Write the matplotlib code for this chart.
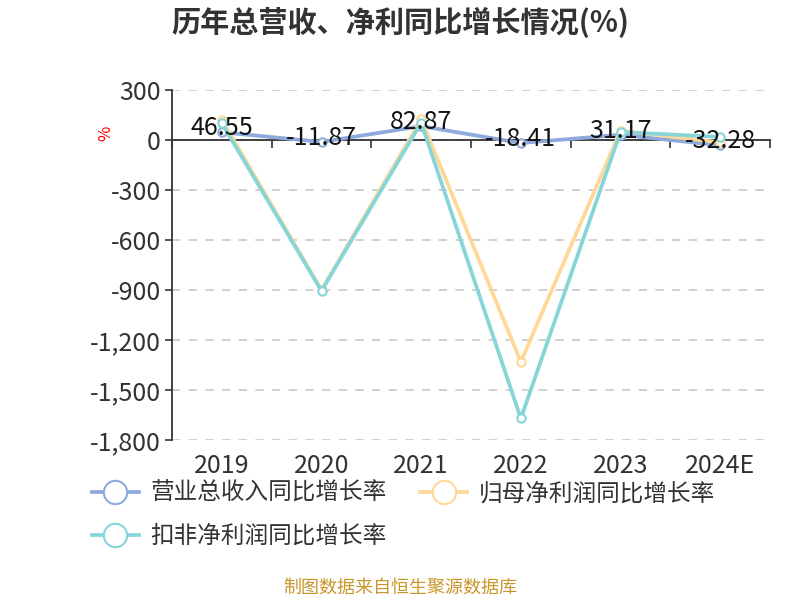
import matplotlib
matplotlib.use('Agg')
import matplotlib.pyplot as plt
from matplotlib.ticker import FuncFormatter
import matplotlib.transforms as mtransforms

plt.rcParams['font.family'] = ['Noto Sans CJK SC', 'DejaVu Sans']
plt.rcParams['axes.unicode_minus'] = False

years = ['2019', '2020', '2021', '2022', '2023', '2024E']
revenue_growth = [46.55, -11.87, 82.87, -18.41, 31.17, -32.28]
net_profit_growth = [120, -900, 125, -1332, 55, -14]
deducted_profit_growth = [100, -906, 104, -1672, 48, 18]

names = ['营业总收入同比增长率', '归母净利润同比增长率', '扣非净利润同比增长率']
colors = ['#8eaadc', '#ffd898', '#86d5d8']

fig = plt.figure(figsize=(8, 6), dpi=100)
ax = fig.add_axes([0.215, 0.267, 0.7475, 0.583])

x = list(range(len(years)))
series = [revenue_growth, net_profit_growth, deducted_profit_growth]
lines = []
for vals, name, c in zip(series, names, colors):
    ln, = ax.plot(x, vals, color=c, lw=2.7, marker='o', ms=6,
                  mfc='white', mec=c, mew=1.5, label=name, zorder=3)
    lines.append(ln)

for xi, v in zip(x, revenue_growth):
    ax.annotate(f'{v:.2f}', (xi, v), xytext=(0, 3), textcoords='offset points',
                ha='center', va='center', fontsize=18, color='#111111', zorder=5)

ax.set_xlim(-0.5, 5.5)
ax.set_ylim(-1800, 300)
ax.set_yticks(range(-1800, 301, 300))
ax.yaxis.set_major_formatter(FuncFormatter(lambda v, p: f'{int(v):,}'))
ax.tick_params(axis='y', labelsize=18, labelcolor='#333333', length=5,
               width=1.2, color='#333333', pad=3)
ax.grid(axis='y', ls=(0, (5, 5)), color='#c8c8c8', lw=1.2)
ax.set_axisbelow(True)

for s in ['top', 'right']:
    ax.spines[s].set_visible(False)
ax.spines['left'].set_color('#333333')
ax.spines['left'].set_linewidth(1.3)
ax.spines['bottom'].set_position(('data', 0))
ax.spines['bottom'].set_color('#333333')
ax.spines['bottom'].set_linewidth(1.3)

ax.set_xticks([i - 0.5 for i in range(len(years) + 1)])
ax.set_xticklabels([])
ax.tick_params(axis='x', length=6, width=1.2, color='#333333', direction='out')

trans = mtransforms.blended_transform_factory(ax.transData, ax.transAxes)
for xi, lab in zip(x, years):
    ax.text(xi, -0.075, lab, transform=trans, ha='center', va='center',
            fontsize=18, color='#333333')

fig.text(0.132, 0.778, '%', color='red', fontsize=12, rotation=90,
         ha='center', va='center')

fig.text(0.5, 0.962, '历年总营收、净利同比增长情况(%)', ha='center', va='center',
         fontsize=21, fontweight='bold', color='#333333')

# row-major order for two columns: blue, orange / teal
order = [lines[0], lines[2], lines[1]]
leg = fig.legend(order, [l.get_label() for l in order], loc='upper left',
                 bbox_to_anchor=(0.088, 0.232), ncol=2, frameon=False, fontsize=17,
                 markerscale=2.8, handlelength=2.0, columnspacing=1.4,
                 labelspacing=0.85, handletextpad=0.5)
for t in leg.get_texts():
    t.set_color('#333333')

fig.text(0.5, 0.02, '制图数据来自恒生聚源数据库', ha='center', va='center',
         fontsize=13, color='#c8962a')

fig.savefig('out.png', dpi=100)
